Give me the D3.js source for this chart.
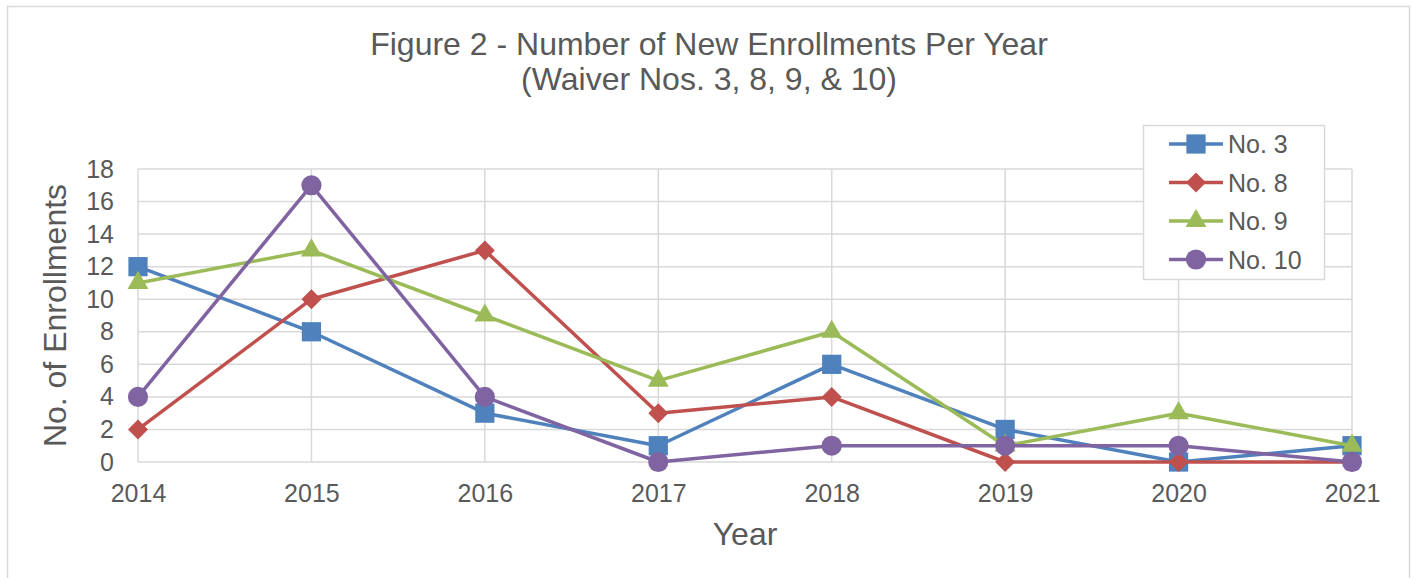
<!DOCTYPE html>
<html>
<head>
<meta charset="utf-8">
<script src="https://cdn.jsdelivr.net/npm/d3@7"></script>
<style>
  body { margin: 0; background: #fff; }
  text { font-family: "Liberation Sans", Arial, sans-serif; fill: #595959; }
</style>
</head>
<body>
<svg id="chart" width="1411" height="578"></svg>
<script>
// data
var years = ["2014", "2015", "2016", "2017", "2018", "2019", "2020", "2021"];
var seriesNames = ["No. 3", "No. 8", "No. 9", "No. 10"];
var no3  = [12, 8, 3, 1, 6, 2, 0, 1];
var no8  = [2, 10, 13, 3, 4, 0, 0, 0];
var no9  = [11, 13, 9, 5, 8, 1, 3, 1];
var no10 = [4, 17, 4, 0, 1, 1, 1, 0];
var yTicks = [0, 2, 4, 6, 8, 10, 12, 14, 16, 18];

var colors = ["#4F81BD", "#C0504D", "#9BBB59", "#8064A2"];
var symbols = [d3.symbolSquare, d3.symbolSquare, d3.symbolTriangle, d3.symbolCircle];
var symSize = [370, 200, 190, 320];
var symRot = [0, 45, 0, 0];

var series = seriesNames.map((n, i) => ({ name: n, values: [no3, no8, no9, no10][i] }));

var svg = d3.select("#chart");

// outer border
svg.append("rect")
    .attr("x", 7.5).attr("y", 6.5)
    .attr("width", 1402).attr("height", 590)
    .attr("fill", "none").attr("stroke", "#d9d9d9").attr("stroke-width", 1.5);

var plot = { left: 138, right: 1352, top: 169, bottom: 462 };

var x = d3.scalePoint().domain(years).range([plot.left, plot.right]);
var y = d3.scaleLinear().domain([0, 18]).range([plot.bottom, plot.top]);

// gridlines
var g = svg.append("g");
g.selectAll("line.h").data(yTicks).enter().append("line")
    .attr("x1", plot.left).attr("x2", plot.right)
    .attr("y1", d => y(d)).attr("y2", d => y(d))
    .attr("stroke", "#d9d9d9").attr("stroke-width", 1.5);
g.selectAll("line.v").data(years).enter().append("line")
    .attr("x1", d => x(d)).attr("x2", d => x(d))
    .attr("y1", plot.top).attr("y2", plot.bottom)
    .attr("stroke", "#d9d9d9").attr("stroke-width", 1.5);

// axes labels
var yAxis = d3.axisLeft(y).tickValues(yTicks).tickSize(0).tickPadding(24);
svg.append("g").attr("transform", "translate(" + plot.left + ",0)").call(yAxis)
    .call(a => a.select(".domain").remove())
    .call(a => a.attr("font-size", 25).attr("font-family", "Liberation Sans, Arial, sans-serif"))
    .selectAll("text").attr("fill", "#595959");

var xAxis = d3.axisBottom(x).tickSize(0).tickPadding(22);
svg.append("g").attr("transform", "translate(0," + plot.bottom + ")").call(xAxis)
    .call(a => a.select(".domain").remove())
    .call(a => a.attr("font-size", 25).attr("font-family", "Liberation Sans, Arial, sans-serif"))
    .selectAll("text").attr("fill", "#595959");

// titles
svg.append("text").attr("x", 709).attr("y", 55).attr("text-anchor", "middle")
    .attr("font-size", 32).text("Figure 2 - Number of New Enrollments Per Year");
svg.append("text").attr("x", 709).attr("y", 90).attr("text-anchor", "middle")
    .attr("font-size", 32).text("(Waiver Nos. 3, 8, 9, & 10)");
svg.append("text").attr("x", 745).attr("y", 545).attr("text-anchor", "middle")
    .attr("font-size", 32).text("Year");
svg.append("text").attr("transform", "translate(66," + ((plot.top + plot.bottom) / 2) + ") rotate(-90)")
    .attr("text-anchor", "middle").attr("font-size", 32).text("No. of Enrollments");

// lines + markers, one series at a time
var line = d3.line().x((d, i) => x(years[i])).y(d => y(d));
series.forEach((s, i) => {
    svg.append("path").datum(s.values)
        .attr("d", line).attr("fill", "none")
        .attr("stroke", colors[i]).attr("stroke-width", 3.5)
        .attr("stroke-linejoin", "round");
    svg.selectAll(null).data(s.values).enter().append("path")
        .attr("d", d3.symbol().type(symbols[i]).size(symSize[i]))
        .attr("transform", (d, j) => "translate(" + x(years[j]) + "," + y(d) + ") rotate(" + symRot[i] + ")")
        .attr("fill", colors[i]);
});

// legend
var lg = svg.append("g").attr("transform", "translate(1143,125)");
lg.append("rect").attr("x", 0.5).attr("y", 0.5).attr("width", 181).attr("height", 154)
    .attr("fill", "#fff").attr("stroke", "#d9d9d9").attr("stroke-width", 1.5);
series.forEach((s, i) => {
    var ly = 19 + i * 38.5;
    lg.append("line").attr("x1", 26).attr("x2", 80).attr("y1", ly).attr("y2", ly)
        .attr("stroke", colors[i]).attr("stroke-width", 3.5);
    lg.append("path").attr("d", d3.symbol().type(symbols[i]).size(symSize[i]))
        .attr("transform", "translate(53," + ly + ") rotate(" + symRot[i] + ")").attr("fill", colors[i]);
    lg.append("text").attr("x", 85).attr("y", ly + 9).attr("font-size", 25).text(s.name);
});
</script>
</body>
</html>
